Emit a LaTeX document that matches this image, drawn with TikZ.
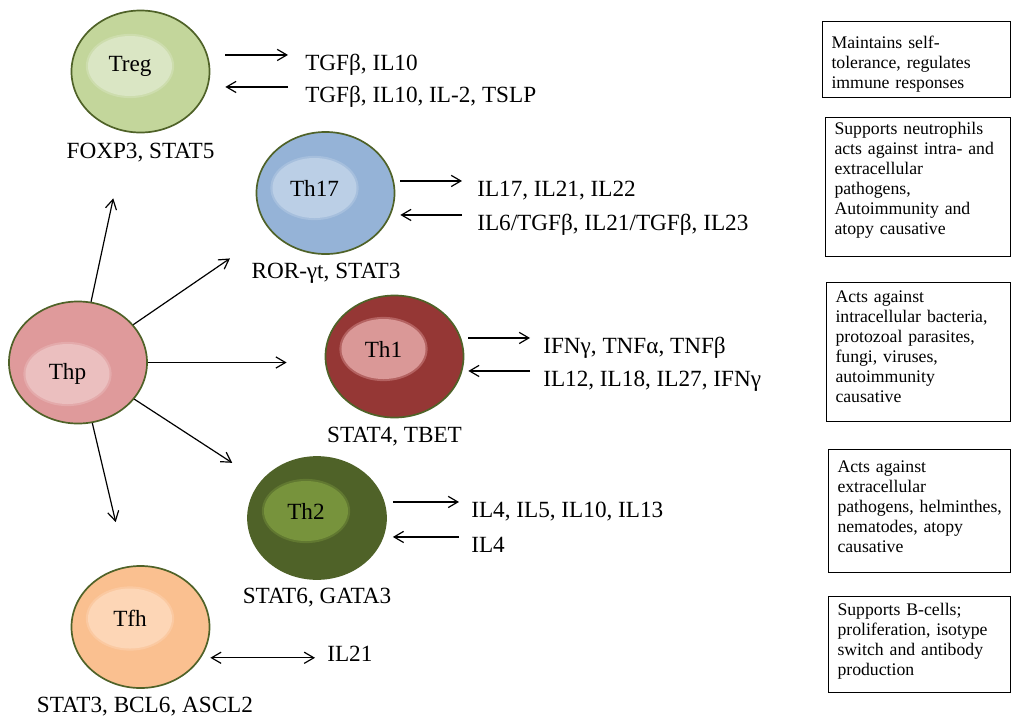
\documentclass[tikz,border=0pt]{standalone}
\usepackage{fontspec}
\setmainfont{Liberation Serif}
\usepackage{tikz}
\usepackage{xcolor}
\usetikzlibrary{shapes.geometric,arrows.meta}

\definecolor{rim}{HTML}{4F6228}
\definecolor{tregfill}{HTML}{C3D69B}
\definecolor{tregcore}{HTML}{DAE6C4}
\definecolor{thfill}{HTML}{95B3D7}
\definecolor{thcore}{HTML}{BBCFE6}
\definecolor{thpfill}{HTML}{DF9A9B}
\definecolor{thpcore}{HTML}{EBBFBF}
\definecolor{thonefill}{HTML}{953735}
\definecolor{thonecore}{HTML}{DA9897}
\definecolor{thtwofill}{HTML}{4F6228}
\definecolor{thtwocore}{HTML}{77933C}
\definecolor{tfhfill}{HTML}{FAC090}
\definecolor{tfhcore}{HTML}{FDD6B6}

\begin{document}
\begin{tikzpicture}[x=0.025cm, y=-0.025cm,
    cell/.style={ellipse, draw=rim, line width=1.2pt, minimum width=3.45cm, minimum height=3.05cm, inner sep=0pt},
    core/.style={ellipse, fill=#1, draw=#1, draw opacity=0.45, line width=3pt, minimum width=2.1cm, minimum height=1.5cm, inner sep=0pt, font=\fontsize{16.5}{19}\selectfont},
    tf/.style={anchor=base, inner sep=0pt, font=\fontsize{16.5}{19}\selectfont},
    cyto/.style={anchor=base west, inner sep=0pt, text height=10.5pt, font=\fontsize{16.5}{19}\selectfont},
    role/.style={draw, line width=0.7pt, rectangle, anchor=north west, align=left, inner xsep=0.225cm, inner ysep=0pt, font=\fontsize{12.6}{14.2}\selectfont},
    arr/.style={line width=0.85pt, -{Straight Barb[length=2.4mm, width=2.8mm]}},
    arrs/.style={line width=0.85pt, {Straight Barb[length=2.4mm, width=2.8mm]}-{Straight Barb[length=2.4mm, width=2.8mm]}}]
                \useasboundingbox (0,0) rectangle (1011,718);

                \node[cell, fill=tregfill] (treg) at (140.5,71.5) {};
                \node[core=tregcore] (tregc) at (130,66) {Treg};
                \node[cell, fill=thfill] (th17) at (325.5,193) {};
                \node[core=thcore] (th17c) at (314.5,188) {Th17};
                \node[cell, fill=thpfill] (thp) at (78,362.5) {};
                \node[core=thpcore] (thpc) at (67.5,374) {Thp};
                \node[cell, fill=thonefill] (th1) at (394.5,356.5) {};
                \node[core=thonecore] (th1c) at (383.5,349) {Th1};
                \node[cell, fill=thtwofill] (th2) at (317,518) {};
                \node[core=thtwocore] (th2c) at (306,511) {Th2};
                \node[cell, fill=tfhfill] (tfh) at (140.5,627) {};
                \node[core=tfhcore] (tfhc) at (130,618.5) {Tfh};

                \node[tf] (tregtf) at (140.5,158) {FOXP3, STAT5};
                \node[tf] (th17tf) at (326,278) {ROR-γt, STAT3};
                \node[tf] (th1tf) at (394.5,442) {STAT4, TBET};
                \node[tf] (th2tf) at (317,603) {STAT6, GATA3};
                \node[tf] (tfhtf) at (145,712) {STAT3, BCL6, ASCL2};

                \node[cyto] (tregA) at (305,70) {TGFβ, IL10};
                \node[cyto] (tregB) at (305,102) {TGFβ, IL10, IL-2, TSLP};
                \node[cyto] (th17A) at (477,196) {IL17, IL21, IL22};
                \node[cyto] (th17B) at (477,230) {IL6/TGFβ, IL21/TGFβ, IL23};
                \node[cyto] (th1A) at (543,353) {IFNγ, TNFα, TNFβ};
                \node[cyto] (th1B) at (543,386) {IL12, IL18, IL27, IFNγ};
                \node[cyto] (th2A) at (471,517) {IL4, IL5, IL10, IL13};
                \node[cyto] (th2B) at (471,552) {IL4};
                \node[cyto] (tfhA) at (327,661) {IL21};

                \node[role, minimum width=4.7cm, text width=4.25cm, text height=0.675cm, text depth=1.225cm] (tregrole) at (822,21) {Maintains self-\\tolerance, regulates\\immune responses};
                \node[role, minimum width=4.625cm, text width=4.175cm, text height=0.425cm, text depth=3.05cm] (th17role) at (825,117) {Supports neutrophils\\acts against intra- and\\extracellular\\pathogens,\\Autoimmunity and\\atopy causative};
                \node[role, minimum width=4.6cm, text width=4.15cm, text height=0.5cm, text depth=2.975cm] (th1role) at (826,282) {Acts against\\intracellular bacteria,\\protozoal parasites,\\fungi, viruses,\\autoimmunity\\causative};
                \node[role, minimum width=4.55cm, text width=4.1cm, text height=0.575cm, text depth=2.5cm] (th2role) at (828,449) {Acts against\\extracellular\\\mbox{pathogens, helminthes,}\\nematodes, atopy\\causative};
                \node[role, minimum width=4.55cm, text width=4.1cm, text height=0.475cm, text depth=1.925cm] (tfhrole) at (828,596) {Supports B-cells;\\proliferation, isotype\\switch and antibody\\production};

                \draw[arr, shorten >=1.69cm] (thp) -- (treg);
                \draw[arr, shorten >=1.22cm] (thp) -- (th17);
                \draw[arr, shorten >=0.95cm] (thp) -- (thp -| th1.west);
                \draw[arr, shorten >=0.85cm] (thp) -- (th2);
                \draw[arr, shorten >=1.14cm] (thp) -- (tfh);

                \draw[arr, shorten <=0.375cm, shorten >=0.425cm] (treg.east |- tregA.north) -- (tregA.north west);
                \draw[arr, shorten <=0.425cm, shorten >=0.375cm] (tregB.north west) -- (treg.east |- tregB.north);
                \draw[arr, shorten <=0.125cm, shorten >=0.375cm] (th17.east |- th17A.north) -- (th17A.north west);
                \draw[arr, shorten <=0.375cm, shorten >=0.125cm] (th17B.north west) -- (th17.east |- th17B.north);
                \draw[arr, shorten <=0.1cm, shorten >=0.325cm] (th1.east |- th1A.north) -- (th1A.north west);
                \draw[arr, shorten <=0.325cm, shorten >=0.1cm] (th1B.north west) -- (th1.east |- th1B.north);
                \draw[arr, shorten <=0.15cm, shorten >=0.3cm] (th2.east |- th2A.north) -- (th2A.north west);
                \draw[arr, shorten <=0.3cm, shorten >=0.15cm] (th2B.north west) -- (th2.east |- th2B.north);
                \draw[arrs, shorten >=0.3cm] (tfh.east |- tfhA.mid west) -- (tfhA.mid west);
            \end{tikzpicture}
\end{document}
